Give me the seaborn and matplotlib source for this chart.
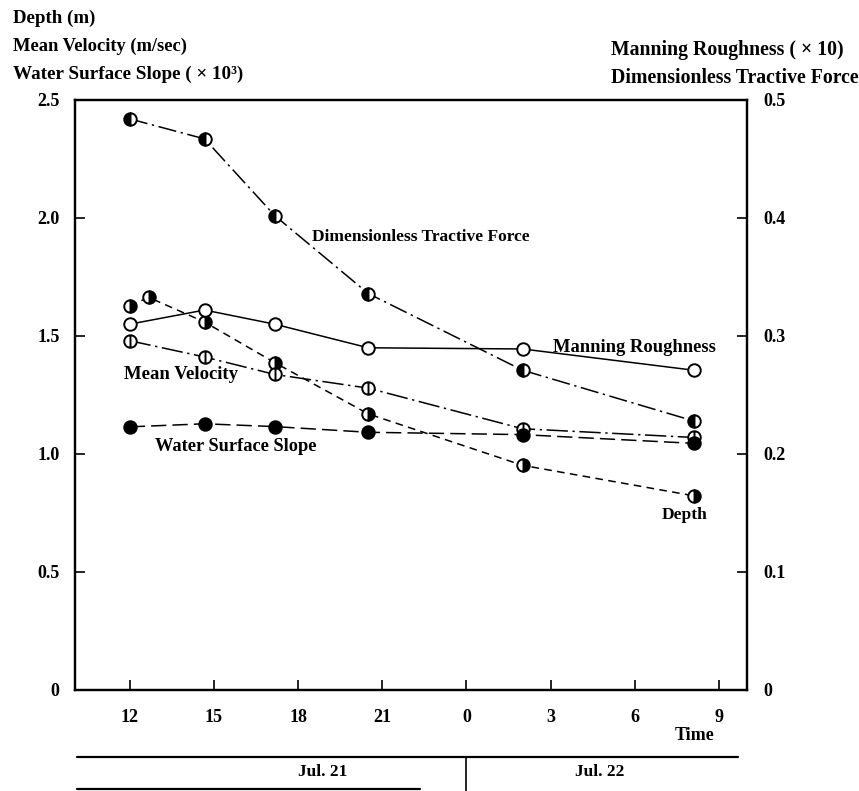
import numpy as np
import pandas as pd
import matplotlib
matplotlib.use('Agg')
import matplotlib.pyplot as plt
import seaborn as sns
from matplotlib.path import Path
from matplotlib.lines import Line2D
from matplotlib.transforms import blended_transform_factory

# ---------------- data (hours from 0:00 Jul. 21) ----------------
hours = [12.0, 14.67, 17.17, 20.5, 26.0, 32.1]
depth_hours = [12.0, 12.67, 14.67, 17.17, 20.5, 26.0, 32.1]
depth = [1.626, 1.664, 1.559, 1.387, 1.170, 0.952, 0.823]
mean_velocity = [1.480, 1.411, 1.337, 1.279, 1.107, 1.070]
water_surface_slope = [1.115, 1.128, 1.116, 1.092, 1.082, 1.045]
manning_roughness = [0.310, 0.322, 0.310, 0.290, 0.289, 0.271]
tractive_force = [0.484, 0.467, 0.402, 0.336, 0.271, 0.228]

x_ticks = [12, 15, 18, 21, 24, 27, 30, 33]
x_ticklabels = ['12', '15', '18', '21', '0', '3', '6', '9']
left_ticks = [0, 0.5, 1.0, 1.5, 2.0, 2.5]
left_ticklabels = ['0', '0.5', '1.0', '1.5', '2.0', '2.5']
right_ticks = [0, 0.1, 0.2, 0.3, 0.4, 0.5]
right_ticklabels = ['0', '0.1', '0.2', '0.3', '0.4', '0.5']
day_labels = ['Jul. 21', 'Jul. 22']
day_boundary = 24

# ---------------- style ----------------
sns.set_theme(style='ticks')
plt.rcParams['font.family'] = ['Liberation Serif', 'DejaVu Serif']
plt.rcParams['font.weight'] = 'bold'
plt.rcParams['axes.linewidth'] = 1.6

fig = plt.figure(figsize=(8.59, 7.91), dpi=100)
ax = fig.add_axes([0.0873, 0.1277, 0.7823, 0.7459])
ax2 = ax.twinx()

circ = Path.unit_circle()
vline = Path([[0, -1], [0, 1]], [Path.MOVETO, Path.LINETO])
mv_marker = Path.make_compound_path(circ, vline)

common = dict(color='black', lw=1.1, markersize=9, markeredgewidth=1.4,
              markeredgecolor='black')

df_main = pd.DataFrame({'t': hours, 'mv': mean_velocity,
                        'ws': water_surface_slope, 'mn': manning_roughness,
                        'tf': tractive_force})
df_depth = pd.DataFrame({'t': depth_hours, 'd': depth})

# left axis series
sns.lineplot(data=df_depth, x='t', y='d', ax=ax, marker='o',
             linestyle=(0, (5, 3.5)), fillstyle='right',
             markerfacecolor='black', markerfacecoloralt='white', **common)
sns.lineplot(data=df_main, x='t', y='mv', ax=ax, marker=mv_marker,
             linestyle=(0, (14, 3, 1.5, 3)), markerfacecolor='white', **common)
sns.lineplot(data=df_main, x='t', y='ws', ax=ax, marker='o',
             linestyle=(0, (10, 4)), markerfacecolor='black', **common)

# right axis series
sns.lineplot(data=df_main, x='t', y='mn', ax=ax2, marker='o',
             linestyle='-', markerfacecolor='white', **common)
sns.lineplot(data=df_main, x='t', y='tf', ax=ax2, marker='o',
             linestyle=(0, (12, 3, 1.5, 3)), fillstyle='left',
             markerfacecolor='black', markerfacecoloralt='white', **common)

for a in (ax, ax2):
    a.set_xlabel('')
    a.set_ylabel('')
    a.set_xlim(10.05, 34)
    for s in a.spines.values():
        s.set_visible(True)
        s.set_linewidth(1.6)
        s.set_color('black')

ax.set_ylim(0, 2.5)
ax2.set_ylim(0, 0.5)
ax.set_xticks(x_ticks)
ax.set_xticklabels(x_ticklabels)
ax.set_yticks(left_ticks)
ax.set_yticklabels(left_ticklabels)
ax2.set_yticks(right_ticks)
ax2.set_yticklabels(right_ticklabels)

ax.tick_params(axis='x', direction='in', length=7, width=1.2, pad=14,
               labelsize=13, top=False, bottom=True, colors='black')
ax.tick_params(axis='y', direction='in', length=7, width=1.2, pad=11,
               labelsize=13, left=True, right=False, colors='black')
ax2.tick_params(axis='y', direction='in', length=7, width=1.2, pad=12,
                labelsize=13, right=True, left=False, colors='black')
ax2.tick_params(axis='x', top=False, bottom=False, labelbottom=False)

# in-plot series labels
lab = dict(color='black', va='center', ha='left')
ax.text(18.49, 1.92, 'Dimensionless Tractive Force', fontsize=12.5, **lab)
ax.text(27.07, 1.45, 'Manning Roughness', fontsize=13.3, **lab)
ax.text(11.79, 1.335, 'Mean Velocity', fontsize=13.5, **lab)
ax.text(12.89, 1.03, 'Water Surface Slope', fontsize=13.2, **lab)
ax.text(30.97, 0.74, 'Depth', fontsize=12.5, **lab)

# axis titles at the top
tl = dict(color='black', va='center', ha='left')
fig.text(13 / 859, 1 - 18 / 791, 'Depth (m)', fontsize=13.6, **tl)
fig.text(13 / 859, 1 - 46 / 791, 'Mean Velocity (m/sec)', fontsize=13.3, **tl)
fig.text(13 / 859, 1 - 74 / 791, 'Water Surface Slope ( \u00d7 10\u00b3)',
         fontsize=13.8, **tl)
fig.text(611 / 859, 1 - 50 / 791, 'Manning Roughness ( \u00d7 10)',
         fontsize=14.2, **tl)
fig.text(611 / 859, 1 - 78 / 791, 'Dimensionless Tractive Force',
         fontsize=14.2, **tl)

fig.text(695 / 859, 1 - 735 / 791, 'Time', fontsize=13, color='black',
         ha='center', va='center')

# date bar below the axis
bt = blended_transform_factory(ax.transData, fig.transFigure)
fig.add_artist(Line2D([77 / 859, 738 / 859], [1 - 757 / 791, 1 - 757 / 791],
                      transform=fig.transFigure, color='black', lw=1.6))
fig.add_artist(Line2D([77 / 859, 420 / 859], [1 - 789 / 791, 1 - 789 / 791],
                      transform=fig.transFigure, color='black', lw=1.6))
fig.add_artist(Line2D([day_boundary, day_boundary], [1 - 757 / 791, 0],
                      transform=bt, color='black', lw=1.2))
fig.text(323 / 859, 1 - 772 / 791, day_labels[0], fontsize=12.5,
         ha='center', va='center', color='black')
fig.text(600 / 859, 1 - 772 / 791, day_labels[1], fontsize=12.5,
         ha='center', va='center', color='black')

fig.savefig('out.png', dpi=100, facecolor='white')
